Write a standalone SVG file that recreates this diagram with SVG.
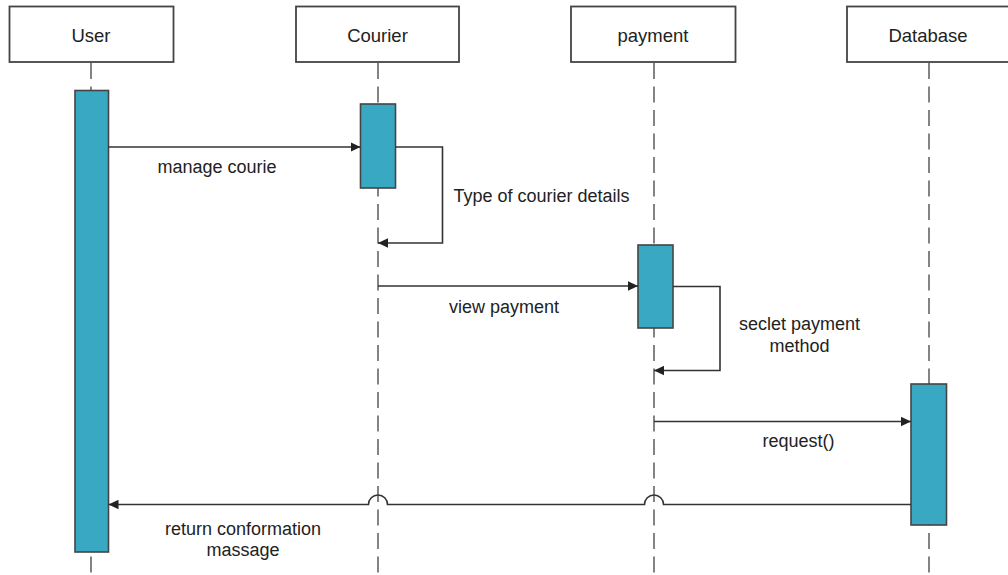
<svg xmlns="http://www.w3.org/2000/svg" width="1008" height="575" viewBox="0 0 1008 575">
<style>
.hdr{fill:#fff;stroke:#444;stroke-width:1.8}
.life{stroke:#777;stroke-width:1.8;stroke-dasharray:16 7.5;fill:none}
.act{fill:#39a8c3;stroke:#444;stroke-width:1.6}
.msg{stroke:#333;stroke-width:1.6;fill:none}
.t{font-family:"Liberation Sans",Arial,sans-serif;fill:#222}
.th{font-size:18.5px;text-anchor:middle}
.tl{font-size:18px}
.tc{font-size:18px;text-anchor:middle}
</style>
<defs>
<marker id="ah" markerWidth="11" markerHeight="10" refX="10" refY="5" orient="auto" markerUnits="userSpaceOnUse">
<path d="M0,0.3 L10,5 L0,9.7 Z" fill="#222"/>
</marker>
</defs>
<rect width="1008" height="575" fill="#fff"/>
<g id="lifelines">
<line class="life" x1="91" y1="63" x2="91" y2="575"/>
<line class="life" x1="378" y1="63" x2="378" y2="575"/>
<line class="life" x1="654" y1="63" x2="654" y2="575"/>
<line class="life" x1="929" y1="63" x2="929" y2="575"/>
</g>
<g id="user">
<rect class="hdr" x="9.5" y="6.5" width="164" height="55.5"/>
<text class="t th" x="91" y="42">User</text>
<rect class="act" x="75" y="90.5" width="33.5" height="461.5"/>
</g>
<g id="courier">
<rect class="hdr" x="296" y="6.5" width="163" height="55.5"/>
<text class="t th" x="377.5" y="42">Courier</text>
<rect class="act" x="360.5" y="104" width="35" height="84"/>
</g>
<g id="payment">
<rect class="hdr" x="571" y="6.5" width="164.5" height="55.5"/>
<text class="t th" x="653" y="42">payment</text>
<rect class="act" x="638" y="245" width="35" height="83"/>
</g>
<g id="database">
<rect class="hdr" x="847" y="6.5" width="164" height="55.5"/>
<text class="t th" x="928" y="42">Database</text>
<rect class="act" x="911" y="384" width="35.5" height="141"/>
</g>
<g id="connectors">
<line class="msg" x1="108.5" y1="147" x2="360.5" y2="147" marker-end="url(#ah)"/>
<polyline class="msg" points="395.5,147 442.5,147 442.5,243 378,243" marker-end="url(#ah)"/>
<line class="msg" x1="378" y1="286" x2="638" y2="286" marker-end="url(#ah)"/>
<polyline class="msg" points="673,286.5 720,286.5 720,370.5 654,370.5" marker-end="url(#ah)"/>
<line class="msg" x1="654" y1="421.5" x2="911" y2="421.5" marker-end="url(#ah)"/>
<path class="msg" d="M911,504.5 L663.5,504.5 A9.5,9.5 0 0 0 644.5,504.5 L387.5,504.5 A9.5,9.5 0 0 0 368.5,504.5 L108.5,504.5" marker-end="url(#ah)"/>
</g>
<g id="labels">
<text class="t tl" x="157.5" y="173">manage courie</text>
<text class="t tl" x="453.5" y="202">Type of courier details</text>
<text class="t tc" x="504" y="313">view payment</text>
<text class="t tc" x="799.5" y="330">seclet payment</text>
<text class="t tc" x="799.5" y="352">method</text>
<text class="t tc" x="798.5" y="447">request()</text>
<text class="t tc" x="243" y="534.5">return conformation</text>
<text class="t tc" x="243" y="556">massage</text>
</g>
</svg>
